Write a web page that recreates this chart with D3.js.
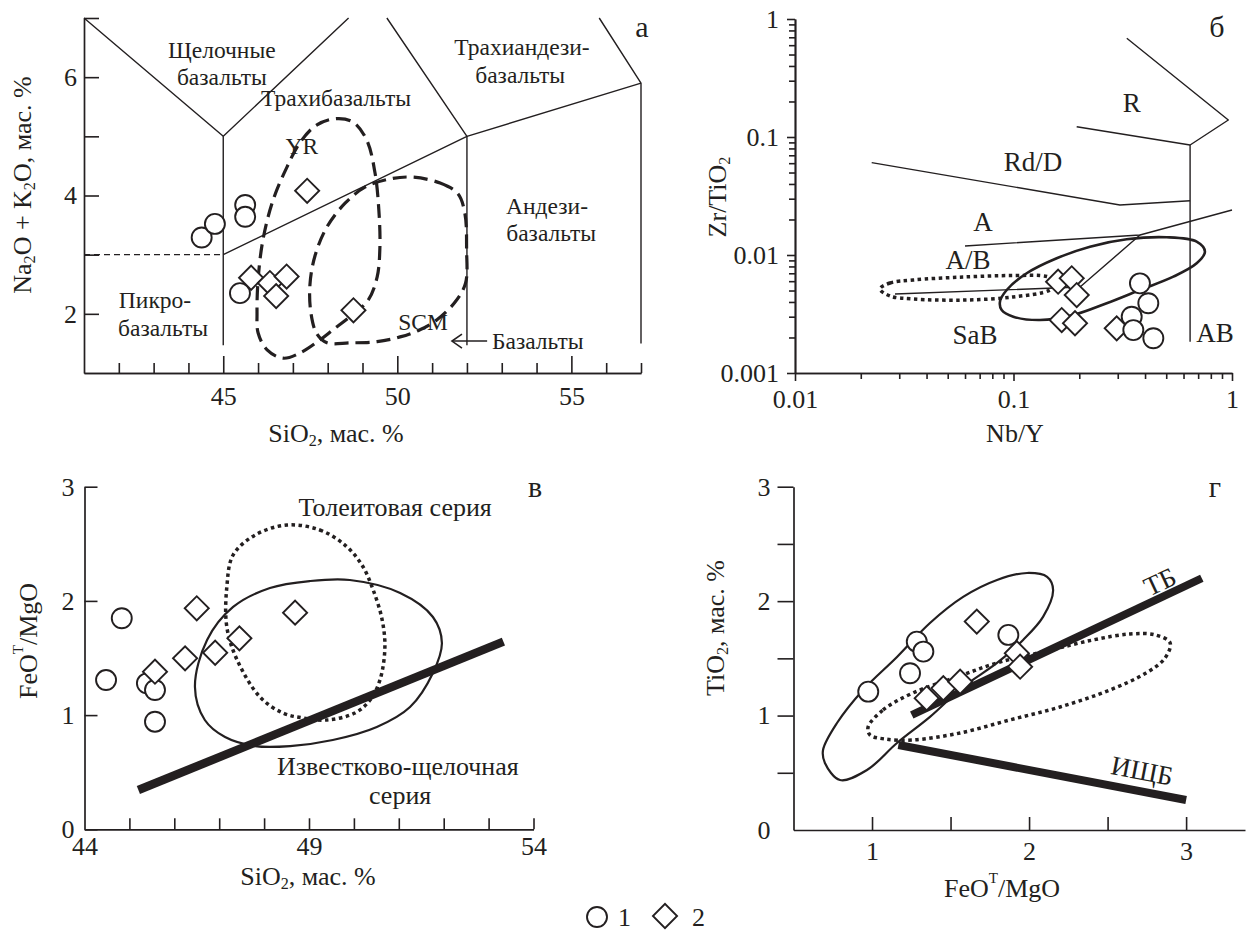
<!DOCTYPE html>
<html><head><meta charset="utf-8">
<script src="https://cdn.jsdelivr.net/npm/d3@7"></script>
<style>body{margin:0;background:#fff}</style>
</head><body><svg id="c" width="1250" height="931"></svg>
<script>
// ================= DATA =================
// Panel а : SiO2 vs Na2O+K2O (TAS)
const aCircleSiO2 = [44.38, 44.76, 45.63, 45.63, 45.48];
const aCircleAlk  = [3.29, 3.52, 3.84, 3.64, 2.35];
const aDiamondSiO2 = [45.80, 46.34, 46.82, 46.52, 47.41, 48.74];
const aDiamondAlk  = [2.61, 2.52, 2.63, 2.30, 4.08, 2.06];
const aBoundaries = [
  [[41,7],[45,5],[48.6,7]],
  [[45,5],[45,1.47]],
  [[45,3],[52,5],[57,5.9]],
  [[49.7,7],[52,5],[52,1.47]],
  [[55.8,7],[57,5.9],[57,1.5]]
];
const aDashedBoundary = [[41,3],[45,3]];
const aFieldYR = [[47.68,5.19],[48.26,5.30],[48.73,5.24],[49.12,4.94],[49.36,4.38],[49.47,3.75],[49.50,3.13],[49.42,2.62],[49.16,2.23],[48.64,1.95],[48.15,1.73],[47.78,1.56],[47.21,1.34],[46.72,1.25],[46.26,1.39],[46.0,1.68],[45.97,2.01],[46.00,2.57],[46.14,3.25],[46.43,3.92],[46.83,4.48],[47.21,4.90]];
const aFieldSCM = [[50.45,4.31],[51.23,4.21],[51.74,4.03],[51.94,3.70],[51.99,3.08],[51.96,2.52],[51.66,2.20],[51.14,1.90],[50.65,1.73],[50.08,1.61],[49.42,1.53],[48.64,1.51],[47.98,1.51],[47.69,1.66],[47.52,2.01],[47.49,2.49],[47.64,2.99],[47.98,3.47],[48.50,3.87],[49.07,4.14],[49.79,4.28]];
const aArrow = [[52.58,1.54],[51.57,1.54]];
const aLabels = [
  ["Щелочные",44.96,6.46],["базальты",44.96,6.00],["Трахибазальты",48.24,5.65],
  ["Трахиандези-",53.58,6.51],["базальты",53.53,6.04],["Андези-",54.30,3.82],["базальты",54.42,3.36],
  ["Пикро-",43.04,2.24],["базальты",43.27,1.76],["YR",47.26,4.84],["SCM",50.74,1.86]
];
const aArrowLabel = ["Базальты",52.72,1.54];
const aXTicksMajor = [45,50,55];
const aXTicksMinor = [42,43,44,46,47,48,49,51,52,53,54,56,57];
const aYTickLabels = [2,4,6];
const aYTicks = [2,3,4,5,6,7];

// Panel б : Nb/Y vs Zr/TiO2 (log-log)
const bCircleNbY = [0.379, 0.414, 0.3475, 0.3535, 0.4365];
const bCircleZr  = [0.00575, 0.00390, 0.0030, 0.00231, 0.00197];
const bDiamondNbY = [0.160, 0.1847, 0.1947, 0.1662, 0.1912, 0.2967];
const bDiamondZr  = [0.00594, 0.00635, 0.00458, 0.00281, 0.00264, 0.00239];
const bBoundaries = [
  [[0.330,0.686],[0.962,0.1393],[0.643,0.0855]],
  [[0.1946,0.1223],[0.643,0.0855]],
  [[0.643,0.0855],[0.643,0.00184]],
  [[0.02244,0.0606],[0.307,0.02653],[0.643,0.02886]],
  [[0.0600,0.01192],[0.3793,0.01477],[1.0,0.02406]],
  [[0.02869,0.00467],[0.2016,0.00535],[0.3793,0.01477]]
];
const bFieldSolid = [[0.0867,0.00402],[0.0931,0.00505],[0.1149,0.00700],[0.1577,0.00938],[0.2239,0.01176],[0.3297,0.01358],[0.5025,0.01413],[0.689,0.01297],[0.752,0.01067],[0.689,0.00850],[0.539,0.00655],[0.379,0.00505],[0.267,0.00390],[0.1878,0.0031],[0.1322,0.00281],[0.0998,0.00300],[0.0883,0.00342]];
const bFieldDotted = [[0.02449,0.00515],[0.02722,0.00579],[0.03467,0.00614],[0.05874,0.00651],[0.0995,0.00670],[0.1423,0.00657],[0.1598,0.00590],[0.1469,0.00505],[0.0995,0.00441],[0.05874,0.00415],[0.03467,0.00424],[0.02722,0.00449]];
const bLabels = [["R",0.3475,0.194],["Rd/D",0.1228,0.0614],["A",0.0725,0.01905],["A/B",0.0619,0.00907],["SaB",0.0667,0.0021]];
const bLabelAB = ["AB",0.836,0.00218];
const bMajorTicks = [0.01,0.1,1];
const bYMajorTicks = [0.001,0.01,0.1,1];

// Panel в : SiO2 vs FeOT/MgO
const cCircleSiO2 = [44.48, 44.83, 45.39, 45.57, 45.57];
const cCircleFeMg = [1.307, 1.848, 1.278, 1.220, 0.942];
const cDiamondSiO2 = [45.57, 46.24, 46.50, 46.91, 47.45, 48.69];
const cDiamondFeMg = [1.380, 1.497, 1.935, 1.546, 1.672, 1.897];
const cDivider = [[45.20,0.344],[53.33,1.643]];
const cFieldCalcAlk = [[46.46,1.246],[46.73,1.658],[47.31,1.947],[48.13,2.113],[49.02,2.174],[49.91,2.183],[51.03,2.069],[51.76,1.859],[51.96,1.631],[51.76,1.369],[51.25,1.071],[50.51,0.896],[49.53,0.782],[48.58,0.729],[47.80,0.729],[47.13,0.808],[46.68,0.957]];
const cFieldThol = [[48.51,2.665],[49.24,2.621],[49.80,2.489],[50.18,2.314],[50.43,2.095],[50.63,1.833],[50.69,1.588],[50.58,1.307],[50.36,1.132],[50.02,1.018],[49.40,0.957],[48.87,0.975],[48.42,1.018],[47.91,1.158],[47.40,1.482],[47.17,1.771],[47.17,2.122],[47.31,2.402],[47.80,2.577]];
const cLabels = [["Толеитовая серия",50.92,2.822],["Известково-щелочная",50.98,0.552],["серия",51.03,0.296]];
const cXTickLabels = [44,49,54];
const cXTicks = [45,46,47,48,49,50,51,52,53,54];
const cYTicks = [0,1,2,3];

// Panel г : FeOT/MgO vs TiO2
const dCircleFeMg = [0.976, 1.242, 1.285, 1.327, 1.868];
const dCircleTi   = [1.209, 1.370, 1.646, 1.559, 1.705];
const dDiamondFeMg = [1.348, 1.454, 1.561, 1.667, 1.922, 1.943];
const dDiamondTi   = [1.151, 1.239, 1.296, 1.821, 1.545, 1.427];
const dLineTB = [[1.253,1.005],[3.10,2.20]];
const dLineICB = [[1.168,0.743],[3.0,0.262]];
const dFieldSolid = [[0.70,0.586],[0.796,0.437],[0.968,0.524],[1.159,0.760],[1.369,0.988],[1.580,1.250],[1.796,1.460],[1.962,1.661],[2.089,1.862],[2.153,2.098],[2.115,2.212],[1.987,2.246],[1.796,2.185],[1.580,2.037],[1.369,1.809],[1.159,1.512],[0.943,1.224],[0.777,0.935],[0.688,0.699]];
const dFieldDotted = [[0.975,0.900],[1.070,1.049],[1.261,1.198],[1.541,1.337],[1.796,1.460],[2.115,1.565],[2.408,1.661],[2.643,1.713],[2.803,1.705],[2.898,1.635],[2.866,1.503],[2.745,1.372],[2.516,1.224],[2.197,1.075],[1.879,0.962],[1.561,0.848],[1.261,0.787],[1.083,0.795],[0.987,0.830]];
const dLabelTB = ["ТБ",2.834,2.168];
const dLabelICB = ["ИЩБ",2.720,0.516];
const dXTickLabels = [1,2,3];
const dXTicks = [1,1.5,2,2.5,3];
const dYTickLabels = [0,1,2,3];
const dYTicks = [0.5,1,1.5,2,2.5,3];

// ================= DRAW =================
const INK = '#231f20';
const FONT = '"Liberation Serif","Times New Roman",serif';
const FS = 26;
const svg = d3.select('#c');
svg.append('rect').attr('width',1250).attr('height',931).attr('fill','#fff');

const xA = d3.scaleLinear([41,57],[84,641]);
const yA = d3.scaleLinear([1,7],[373,18]);
const xB = d3.scaleLog([0.01,1],[795,1232]);
const yB = d3.scaleLog([0.001,1],[373,19]);
const xC = d3.scaleLinear([44,54],[84.5,533.5]);
const yC = d3.scaleLinear([0,3],[829.3,486.7]);
const xD = d3.scaleLinear([0.5,3.375],[793.5,1245]);
const yD = d3.scaleLinear([0,3],[830,486.7]);

function styleAxis(g){
  g.attr('font-family',FONT).attr('font-size',FS);
  g.select('.domain').attr('stroke',INK).attr('stroke-width',1.7);
  g.selectAll('.tick line').attr('stroke',INK).attr('stroke-width',1.6);
  g.selectAll('.tick text').attr('fill',INK);
}
function addAxis(gen, tx, ty, noDomain){
  const g = svg.append('g').attr('transform',`translate(${tx},${ty})`).call(gen);
  styleAxis(g);
  if(noDomain) g.select('.domain').remove();
  return g;
}
const blank = () => '';
function poly(pts, x, y, w, dash, closed){
  const gen = d3.line().x(d=>x(d[0])).y(d=>y(d[1]));
  if(closed) gen.curve(d3.curveCatmullRomClosed.alpha(0.5));
  const p = svg.append('path').attr('d',gen(pts)).attr('fill','none').attr('stroke',INK)
    .attr('stroke-width',w).attr('stroke-linejoin','round');
  if(dash) p.attr('stroke-dasharray',dash);
  return p;
}
function circles(xs, ys, x, y){
  svg.append('g').selectAll('circle').data(xs.map((d,i)=>[d,ys[i]])).join('circle')
    .attr('cx',d=>x(d[0])).attr('cy',d=>y(d[1])).attr('r',10)
    .attr('fill','#fff').attr('stroke',INK).attr('stroke-width',1.9);
}
const diamondPath = d3.symbol(d3.symbolSquare, 290)();
function diamonds(xs, ys, x, y){
  svg.append('g').selectAll('path').data(xs.map((d,i)=>[d,ys[i]])).join('path')
    .attr('d',diamondPath).attr('transform',d=>`translate(${x(d[0])},${y(d[1])}) rotate(45)`)
    .attr('fill','#fff').attr('stroke',INK).attr('stroke-width',1.9);
}
function text(t, px, py, opts={}){
  const fs = opts.fs||FS;
  const el = svg.append('text').attr('x',px).attr('y',py).attr('font-family',FONT)
    .attr('font-size',fs).attr('fill',INK).attr('text-anchor',opts.anchor||'middle')
    .attr('dominant-baseline','central');
  if(opts.rot!==undefined) el.attr('transform',`rotate(${opts.rot},${px},${py})`);
  if(Array.isArray(t)){
    t.forEach(s=>{
      const ts = el.append('tspan').text(s.t);
      if(s.sub){ ts.attr('font-size',fs*0.62).attr('dy',fs*0.27); }
      else if(s.sup){ ts.attr('font-size',fs*0.58).attr('dy',-fs*0.4); }
      if(s.back) ts.attr('dy',s.back*fs);
    });
  } else el.text(t);
  return el;
}

// ---------- Panel а ----------
addAxis(d3.axisBottom(xA).tickValues(aXTicksMinor).tickSizeInner(-10).tickSizeOuter(0).tickFormat(blank), 0, 373);
addAxis(d3.axisBottom(xA).tickValues(aXTicksMajor).tickSizeInner(-17).tickSizeOuter(0).tickPadding(14).tickFormat(d3.format('d')), 0, 373);
addAxis(d3.axisLeft(yA).tickValues(aYTicks).tickSizeInner(-15).tickSizeOuter(0).tickFormat(blank), 84, 0);
addAxis(d3.axisLeft(yA).tickValues(aYTickLabels).tickSizeInner(0).tickSizeOuter(0).tickPadding(7).tickFormat(d3.format('d')), 84, 0, true);
aBoundaries.forEach(b=>poly(b,xA,yA,1.4));
poly(aDashedBoundary,xA,yA,1.4,'6,4');
poly(aFieldYR,xA,yA,3.2,'14,7',true);
poly(aFieldSCM,xA,yA,3.2,'14,7',true);
poly(aArrow,xA,yA,1.6);
{
  const tx = xA(aArrow[1][0]), ty = yA(aArrow[1][1]);
  svg.append('path').attr('d',`M${tx+10},${ty-7}L${tx},${ty}L${tx+10},${ty+7}`)
    .attr('fill','none').attr('stroke',INK).attr('stroke-width',1.6);
}
aLabels.forEach(l=>text(l[0],xA(l[1]),yA(l[2]),{fs:23.5}));
text(aArrowLabel[0],xA(aArrowLabel[1]),yA(aArrowLabel[2]),{anchor:'start',fs:23.5});
circles(aCircleSiO2,aCircleAlk,xA,yA);
diamonds(aDiamondSiO2,aDiamondAlk,xA,yA);
text('а',642,26,{fs:30});
text([{t:'SiO'},{t:'2',sub:true},{t:', мас. %',back:-0.27}],336,433);
text([{t:'Na'},{t:'2',sub:true},{t:'O + K',back:-0.27},{t:'2',sub:true},{t:'O, мас. %',back:-0.27}],22,185,{rot:-90});

// ---------- Panel б ----------
const bMinorX = [], bMinorY = [];
[0.01,0.1].forEach(d=>{for(let k=2;k<=9;k++) bMinorX.push(d*k);});
[0.001,0.01,0.1].forEach(d=>{for(let k=2;k<=9;k++) bMinorY.push(d*k);});
addAxis(d3.axisBottom(xB).tickValues(bMinorX).tickSizeInner(6).tickSizeOuter(0).tickFormat(blank), 0, 373);
addAxis(d3.axisBottom(xB).tickValues(bMajorTicks).tickSizeInner(8).tickSizeOuter(0).tickPadding(9).tickFormat(d=>String(d)), 0, 373);
addAxis(d3.axisLeft(yB).tickValues(bMinorY).tickSizeInner(6).tickSizeOuter(0).tickFormat(blank), 795, 0);
addAxis(d3.axisLeft(yB).tickValues(bYMajorTicks).tickSizeInner(8).tickSizeOuter(0).tickPadding(8).tickFormat(d=>String(d)), 795, 0);
bBoundaries.forEach(b=>poly(b,xB,yB,1.4));
poly(bFieldDotted,xB,yB,3.5,'3.5,3.5',true);
poly(bFieldSolid,xB,yB,2.6,null,true);
bLabels.forEach(l=>text(l[0],xB(l[1]),yB(l[2]),{fs:27}));
text(bLabelAB[0],xB(bLabelAB[1]),yB(bLabelAB[2]),{fs:27});
diamonds(bDiamondNbY,bDiamondZr,xB,yB);
circles(bCircleNbY,bCircleZr,xB,yB);
text('б',1217,26,{fs:30});
text('Nb/Y',1015,433);
text([{t:'Zr/TiO'},{t:'2',sub:true}],717,197,{rot:-90});

// ---------- Panel в ----------
addAxis(d3.axisBottom(xC).tickValues(cXTicks).tickSizeInner(-11).tickSizeOuter(0).tickFormat(blank), 0, 829.3);
addAxis(d3.axisBottom(xC).tickValues(cXTickLabels).tickSizeInner(0).tickSizeOuter(0).tickPadding(7).tickFormat(d3.format('d')), 0, 829.3, true);
addAxis(d3.axisLeft(yC).tickValues(cYTicks).tickSizeInner(-13).tickSizeOuter(0).tickPadding(10).tickFormat(d3.format('d')), 84.5, 0);
poly(cFieldThol,xC,yC,3.5,'3.5,3.5',true);
poly(cFieldCalcAlk,xC,yC,2.2,null,true);
poly(cDivider,xC,yC,8.5);
cLabels.forEach(l=>text(l[0],xC(l[1]),yC(l[2]),{fs:26}));
circles(cCircleSiO2,cCircleFeMg,xC,yC);
diamonds(cDiamondSiO2,cDiamondFeMg,xC,yC);
text('в',535,486,{fs:30});
text([{t:'SiO'},{t:'2',sub:true},{t:', мас. %',back:-0.27}],308,876);
text([{t:'FeO'},{t:'T',sup:true},{t:'/MgO',back:0.4}],28,641,{rot:-90});

// ---------- Panel г ----------
addAxis(d3.axisBottom(xD).tickValues(dXTicks).tickSizeInner(-13).tickSizeOuter(0).tickFormat(blank), 0, 830);
addAxis(d3.axisBottom(xD).tickValues(dXTickLabels).tickSizeInner(0).tickSizeOuter(0).tickPadding(12).tickFormat(d3.format('d')), 0, 830, true);
addAxis(d3.axisLeft(yD).tickValues(dYTicks).tickSizeInner(16).tickSizeOuter(0).tickFormat(blank), 793.5, 0);
addAxis(d3.axisLeft(yD).tickValues(dYTickLabels).tickSizeInner(0).tickSizeOuter(0).tickPadding(23).tickFormat(d3.format('d')), 793.5, 0, true);
poly(dFieldDotted,xD,yD,3.5,'3.5,3.5',true);
poly(dFieldSolid,xD,yD,2.2,null,true);
poly(dLineTB,xD,yD,8);
poly(dLineICB,xD,yD,8);
text(dLabelTB[0],xD(dLabelTB[1]),yD(dLabelTB[2]),{rot:-25,fs:27});
text(dLabelICB[0],xD(dLabelICB[1]),yD(dLabelICB[2]),{rot:11,fs:27});
circles(dCircleFeMg,dCircleTi,xD,yD);
diamonds(dDiamondFeMg,dDiamondTi,xD,yD);
text('г',1215,486,{fs:30});
text([{t:'FeO'},{t:'T',sup:true},{t:'/MgO',back:0.4}],1002,888);
text([{t:'TiO'},{t:'2',sub:true},{t:', мас. %',back:-0.27}],715,628,{rot:-90});

// ---------- Legend ----------
svg.append('circle').attr('cx',597).attr('cy',917).attr('r',10).attr('fill','#fff').attr('stroke',INK).attr('stroke-width',1.9);
text('1',618,917,{anchor:'start'});
svg.append('path').attr('d',diamondPath).attr('transform','translate(665,916) rotate(45)').attr('fill','#fff').attr('stroke',INK).attr('stroke-width',1.9);
text('2',692,917,{anchor:'start'});
</script></body></html>
